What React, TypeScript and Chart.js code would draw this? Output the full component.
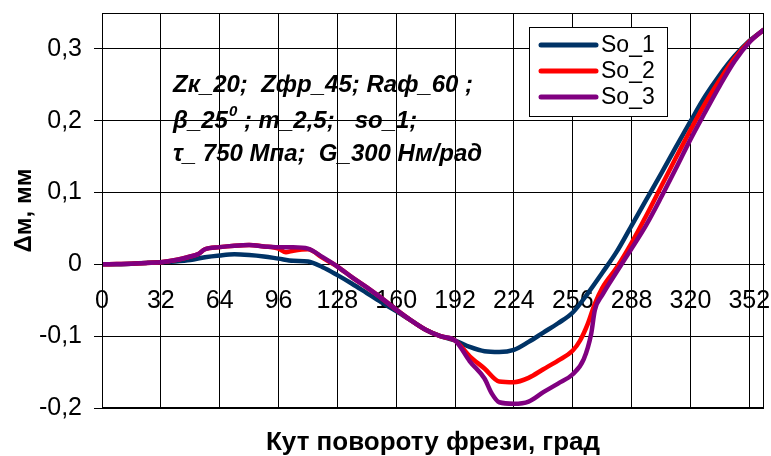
import React, { useEffect, useRef } from "react";
import { Chart, registerables } from "chart.js";

Chart.register(...registerables);

const FONT = "'Liberation Sans', Arial, Helvetica, sans-serif";

// Angle of cutter rotation, degrees
const xTicks = [0, 32, 64, 96, 128, 160, 192, 224, 256, 288, 320, 352];
const yTicks = [-0.2, -0.1, 0, 0.1, 0.2, 0.3];

const seriesNames = ["So_1", "So_2", "So_3"];
const seriesColors = ["#003366", "#FF0000", "#800080"];

const angles1 = [0, 8, 16, 24, 32, 40, 48, 56, 64, 72, 80, 88, 96, 104, 112, 120, 128, 136, 144, 152, 160, 168, 176, 184, 192, 200, 208, 216, 224, 232, 240, 248, 256, 264, 272, 280, 288, 296, 304, 312, 320, 328, 336, 344, 352, 360];
const so1 = [0, 0, 0.001, 0.002, 0.003, 0.004, 0.006, 0.010, 0.0125, 0.014, 0.013, 0.011, 0.008, 0.005, 0.004, -0.004, -0.015, -0.027, -0.040, -0.053, -0.065, -0.078, -0.091, -0.100, -0.106, -0.115, -0.121, -0.122, -0.119, -0.108, -0.095, -0.082, -0.067, -0.041, -0.012, 0.018, 0.054, 0.090, 0.126, 0.163, 0.199, 0.234, 0.264, 0.290, 0.311, 0.327];

const angles2 = [0, 8, 16, 24, 32, 40, 48, 52, 56, 64, 72, 80, 88, 96, 100, 104, 112, 120, 128, 136, 144, 152, 160, 168, 176, 184, 192, 200, 208, 216, 224, 232, 240, 248, 256, 260, 264, 268, 272, 280, 288, 296, 304, 312, 320, 328, 336, 344, 352, 360];
const so2 = [0, 0.0005, 0.001, 0.002, 0.003, 0.006, 0.011, 0.014, 0.021, 0.024, 0.026, 0.027, 0.025, 0.022, 0.017, 0.019, 0.021, 0.009, -0.003, -0.018, -0.032, -0.047, -0.063, -0.078, -0.091, -0.100, -0.106, -0.128, -0.145, -0.163, -0.164, -0.158, -0.146, -0.134, -0.120, -0.106, -0.084, -0.055, -0.033, -0.004, 0.030, 0.068, 0.108, 0.148, 0.187, 0.224, 0.257, 0.287, 0.310, 0.327];

const angles3 = [0, 8, 16, 24, 32, 40, 48, 52, 56, 64, 72, 80, 88, 96, 104, 112, 120, 128, 136, 144, 152, 160, 168, 176, 184, 192, 200, 208, 212, 216, 224, 232, 240, 248, 256, 262, 266, 268, 272, 280, 288, 296, 304, 312, 320, 328, 336, 344, 352, 360];
const so3 = [0, 0.0005, 0.001, 0.002, 0.003, 0.006, 0.011, 0.014, 0.021, 0.024, 0.026, 0.027, 0.025, 0.024, 0.024, 0.022, 0.010, -0.003, -0.018, -0.032, -0.047, -0.063, -0.078, -0.091, -0.100, -0.106, -0.135, -0.159, -0.180, -0.192, -0.194, -0.191, -0.178, -0.166, -0.153, -0.132, -0.097, -0.064, -0.043, -0.010, 0.022, 0.055, 0.093, 0.133, 0.174, 0.212, 0.249, 0.283, 0.309, 0.327];

const seriesAngles = [angles1, angles2, angles3];
const seriesValues = [so1, so2, so3];

const annotationLine1 = "Zк_20;  Zфр_45; Rаф_60 ;";
const annotationLine2a = "β_25";
const annotationLine2sup = "0";
const annotationLine2b = " ; m_2,5;   so_1;";
const annotationLine3 = "τ_ 750 Мпа;  G_300 Нм/рад";

const fmt = (v: number) => {
  if (Math.abs(v) < 1e-9) return "0";
  return v.toFixed(1).replace(".", ",");
};

const overlayPlugin = {
  id: "overlay",
  afterDatasetsDraw(chart: any) {
    const { ctx, chartArea: a } = chart;
    ctx.save();
    // plot frame
    ctx.strokeStyle = "#000";
    ctx.lineWidth = 1;
    ctx.strokeRect(a.left + 0.5, a.top + 0.5, a.right - a.left - 1, a.bottom - a.top - 1);

    // annotation text
    ctx.fillStyle = "#000";
    ctx.textBaseline = "middle";
    ctx.textAlign = "left";
    const tx = a.left + 71;
    ctx.font = `italic bold 24px ${FONT}`;
    ctx.fillText(annotationLine1, tx, a.top + 72);
    let x2 = tx;
    ctx.fillText(annotationLine2a, x2, a.top + 108);
    x2 += ctx.measureText(annotationLine2a).width + 1;
    ctx.font = `italic bold 15px ${FONT}`;
    ctx.fillText(annotationLine2sup, x2, a.top + 99);
    x2 += ctx.measureText(annotationLine2sup).width;
    ctx.font = `italic bold 24px ${FONT}`;
    ctx.fillText(annotationLine2b, x2, a.top + 108);
    ctx.fillText(annotationLine3, tx, a.top + 141);

    // legend
    const bx = a.left + 427;
    const by = a.top + 14;
    const bw = 138;
    const bh = 89;
    ctx.fillStyle = "#fff";
    ctx.fillRect(bx, by, bw, bh);
    ctx.strokeStyle = "#000";
    ctx.lineWidth = 1;
    ctx.strokeRect(bx + 0.5, by + 0.5, bw, bh);
    ctx.font = `23px ${FONT}`;
    chart.data.datasets.forEach((ds: any, i: number) => {
      const ry = by + 18 + i * 26;
      ctx.strokeStyle = ds.borderColor;
      ctx.lineWidth = 5;
      ctx.lineCap = "round";
      ctx.beginPath();
      ctx.moveTo(bx + 12, ry);
      ctx.lineTo(bx + 67, ry);
      ctx.stroke();
      ctx.fillStyle = "#000";
      ctx.fillText(ds.label, bx + 72, ry + 1);
    });
    ctx.restore();
  },
};

export default function App() {
  const canvasRef = useRef<HTMLCanvasElement | null>(null);

  useEffect(() => {
    document.body.style.margin = "0";
    const canvas = canvasRef.current;
    if (!canvas) return;
    const datasets = seriesNames.map((name, i) => ({
      label: name,
      data: seriesAngles[i].map((x, j) => ({ x, y: seriesValues[i][j] })),
      borderColor: seriesColors[i],
      backgroundColor: seriesColors[i],
      borderWidth: 4.5,
      pointRadius: 0,
      fill: false,
      cubicInterpolationMode: "monotone" as const,
      order: 3 - i,
    }));

    const chart = new Chart(canvas, {
      type: "line",
      data: { datasets },
      plugins: [overlayPlugin],
      options: {
        animation: false,
        responsive: false,
        devicePixelRatio: 1,
        layout: { padding: { top: 13, right: 7, left: 0, bottom: 0 } },
        plugins: {
          legend: { display: false },
          tooltip: { enabled: false },
        },
        scales: {
          x: {
            type: "linear",
            min: 0,
            max: 360,
            position: { y: 0 } as any,
            afterBuildTicks: (s: any) => {
              s.ticks = xTicks.map((v) => ({ value: v }));
            },
            afterFit: (s: any) => {
              s.paddingLeft = 0;
              s.paddingRight = 0;
            },
            ticks: {
              autoSkip: false,
              maxRotation: 0,
              padding: 14,
              color: "#000",
              font: { family: FONT, size: 25 },
              callback: (v: any) => String(v),
            },
            grid: { color: "#000", lineWidth: 1, tickLength: 8 },
            border: { display: true, color: "#000" },
          },
          x2: {
            type: "linear",
            min: 0,
            max: 360,
            position: "bottom",
            grid: { display: false, drawTicks: false },
            border: { display: false },
            ticks: { display: false },
            title: {
              display: true,
              text: "Кут повороту фрези, град",
              color: "#000",
              font: { family: FONT, size: 26, weight: "bold" },
              padding: { top: 0, bottom: -2 },
            },
            afterFit: (s: any) => {
              s.height = 48;
              s.paddingLeft = 0;
              s.paddingRight = 0;
            },
          },
          y: {
            type: "linear",
            min: -0.2,
            max: 0.35,
            afterBuildTicks: (s: any) => {
              s.ticks = yTicks.map((v) => ({ value: v }));
            },
            afterFit: (s: any) => {
              s.width = 102;
              s.paddingTop = 0;
              s.paddingBottom = 0;
            },
            ticks: {
              padding: 12,
              color: "#000",
              font: { family: FONT, size: 25 },
              callback: (v: any) => fmt(Number(v)),
            },
            grid: { color: "#000", lineWidth: 1, tickLength: 8 },
            border: { display: false },
            title: {
              display: true,
              text: "Δм, мм",
              color: "#000",
              font: { family: FONT, size: 24, weight: "bold" },
              padding: { top: 10, bottom: 0 },
            },
          },
        },
      },
    });
    return () => chart.destroy();
  }, []);

  return (
    <div style={{ width: 771, height: 456, background: "#fff" }}>
      <canvas ref={canvasRef} width={771} height={456} />
    </div>
  );
}
